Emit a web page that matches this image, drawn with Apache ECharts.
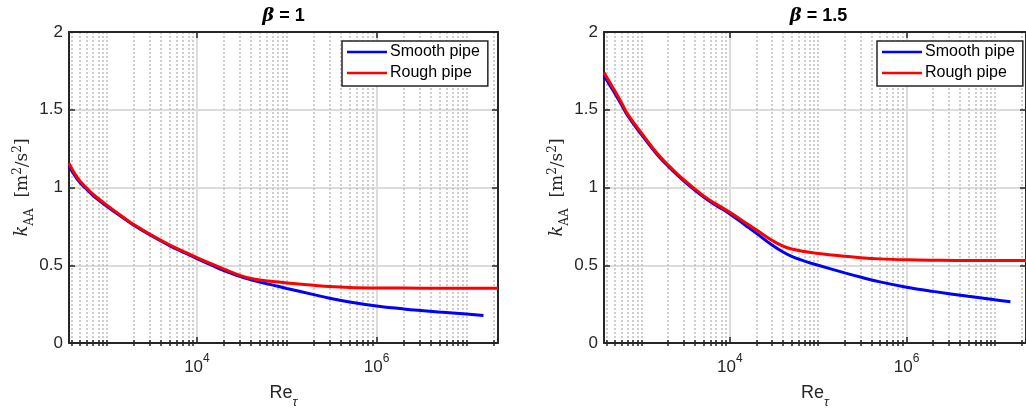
<!DOCTYPE html>
<html>
<head>
<meta charset="utf-8">
<script src="https://cdn.jsdelivr.net/npm/echarts@6/dist/echarts.min.js"></script>
<style>html,body{margin:0;padding:0;background:#fff;}#c{width:1026px;height:414px;}</style>
</head>
<body>
<div id="c"></div>
<script>
// ---- data ----
const titles = ['1', '1.5'];
const seriesNames = ['Smooth pipe', 'Rough pipe'];
const xMin = 376, xMax = 2.25e7;
const majorTicks = [1e4, 1e6];
const yTicks = [0, 0.5, 1, 1.5, 2];
const reSmoothB1 = [376, 430, 500, 600, 700, 1000, 1500, 2000, 3000, 5000, 7000, 1e4, 1.5e4, 2e4, 3e4, 4e4, 5e4, 7e4, 1e5, 2e5, 3e5, 5e5, 1e6, 2e6, 5e6, 1e7, 1.55e7];
const kSmoothB1 = [1.14, 1.082, 1.03, 0.985, 0.947, 0.878, 0.805, 0.755, 0.695, 0.625, 0.585, 0.543, 0.497, 0.466, 0.428, 0.407, 0.392, 0.372, 0.351, 0.311, 0.288, 0.264, 0.238, 0.219, 0.199, 0.186, 0.177];
const reRoughB1 = [376, 430, 500, 600, 700, 1000, 1500, 2000, 3000, 5000, 7000, 1e4, 1.5e4, 2e4, 3e4, 4e4, 5e4, 7e4, 1e5, 2e5, 3e5, 5e5, 1e6, 2e6, 5e6, 1e7, 2.25e7];
const kRoughB1 = [1.155, 1.095, 1.04, 0.993, 0.955, 0.885, 0.81, 0.76, 0.70, 0.63, 0.59, 0.549, 0.505, 0.475, 0.435, 0.415, 0.405, 0.396, 0.386, 0.371, 0.363, 0.357, 0.354, 0.353, 0.352, 0.352, 0.352];
const reSmoothB15 = [376, 430, 500, 600, 700, 1000, 1500, 2000, 3000, 5000, 7000, 1e4, 1.5e4, 2e4, 3e4, 4e4, 5e4, 7e4, 1e5, 2e5, 3e5, 5e5, 1e6, 2e6, 5e6, 1e7, 1.5e7];
const kSmoothB15 = [1.72, 1.665, 1.605, 1.527, 1.46, 1.34, 1.212, 1.137, 1.043, 0.94, 0.885, 0.83, 0.757, 0.705, 0.630, 0.585, 0.557, 0.527, 0.500, 0.451, 0.424, 0.393, 0.359, 0.332, 0.300, 0.278, 0.266];
const reRoughB15 = [376, 430, 500, 600, 700, 1000, 1500, 2000, 3000, 5000, 7000, 1e4, 1.5e4, 2e4, 3e4, 4e4, 5e4, 7e4, 1e5, 2e5, 3e5, 5e5, 1e6, 2e6, 5e6, 1e7, 2.25e7];
const kRoughB15 = [1.74, 1.683, 1.62, 1.54, 1.47, 1.35, 1.22, 1.145, 1.05, 0.948, 0.893, 0.84, 0.773, 0.727, 0.66, 0.623, 0.604, 0.588, 0.576, 0.558, 0.549, 0.541, 0.535, 0.532, 0.530, 0.530, 0.530];

// ---- build ----
const TXT = '#262626';
const FONT = '"Liberation Sans", Arial, sans-serif';
const SERIF = '"DejaVu Serif", serif';
const minorTicks = [];
for (let e = 2; e <= 7; e++) for (let k = 1; k <= 9; k++) {
  const v = k * Math.pow(10, e);
  if (v >= xMin && v <= xMax && !(k === 1 && majorTicks.includes(v))) minorTicks.push(v);
}
const pairs = [
  [[reSmoothB1, kSmoothB1], [reRoughB1, kRoughB1]],
  [[reSmoothB15, kSmoothB15], [reRoughB15, kRoughB15]]
];
const gridLefts = [69, 604];
const W = 429, TOP = 32, H = 311;

const grid = [], xAxis = [], yAxis = [], series = [], legend = [], graphic = [];
gridLefts.forEach((gl, g) => {
  grid.push({left: gl, top: TOP, width: W, height: H, containLabel: false});
  const base = {type: 'log', logBase: 10, min: xMin, max: xMax, gridIndex: g, splitLine: {show: false},
    axisLabel: {show: false}, axisTick: {show: false}, axisLine: {show: false}, minorTick: {show: false}};
  xAxis.push(Object.assign({}, base, {
    position: 'bottom',
    axisLine: {show: true, onZero: false, lineStyle: {color: TXT, width: 2}},
    axisTick: {show: true, inside: true, length: 6, customValues: majorTicks, lineStyle: {color: TXT, width: 1.5}},
    splitLine: {show: true, lineStyle: {color: '#dcdcdc', width: 2}},
    axisLabel: {show: true, customValues: majorTicks, margin: 10, color: TXT,
      formatter: v => '{b|10}{s|' + Math.round(Math.log10(v)) + '}',
      rich: {b: {fontSize: 17, fontFamily: FONT, color: TXT, padding: [6, 0, 0, 0], verticalAlign: 'bottom'},
             s: {fontSize: 12, fontFamily: FONT, color: TXT, verticalAlign: 'top'}}},
    name: '{r|Re}{t|τ}', nameLocation: 'middle', nameGap: 41,
    nameTextStyle: {rich: {r: {fontSize: 18, fontFamily: FONT, color: TXT, padding: [0, 0, 7, 0], verticalAlign: 'top'},
                           t: {fontSize: 13, fontFamily: FONT, fontStyle: 'italic', color: TXT, verticalAlign: 'bottom'}}}
  }));
  xAxis.push(Object.assign({}, base, {
    position: 'bottom',
    axisTick: {show: true, inside: true, length: 3, customValues: minorTicks, lineStyle: {color: TXT, width: 1.5}},
    splitLine: {show: true, lineStyle: {color: '#bfbfbf', width: 1.5, type: [2, 2]}}
  }));
  xAxis.push(Object.assign({}, base, {
    position: 'top',
    axisLine: {show: true, onZero: false, lineStyle: {color: TXT, width: 2}},
    axisTick: {show: true, inside: true, length: 6, customValues: majorTicks, lineStyle: {color: TXT, width: 1.5}}
  }));
  xAxis.push(Object.assign({}, base, {
    position: 'top',
    axisTick: {show: true, inside: true, length: 3, customValues: minorTicks, lineStyle: {color: TXT, width: 1.5}}
  }));
  const yb = {type: 'value', min: 0, max: 2, interval: 0.5, gridIndex: g};
  yAxis.push(Object.assign({}, yb, {
    position: 'left',
    axisLine: {show: true, onZero: false, lineStyle: {color: TXT, width: 2}},
    axisTick: {show: true, inside: true, length: 6, lineStyle: {color: TXT, width: 1.5}},
    axisLabel: {show: true, color: TXT, fontSize: 17, fontFamily: FONT, margin: 6},
    splitLine: {show: true, lineStyle: {color: '#dcdcdc', width: 2}},
    name: '{k|k}{a|AA}{u|  [m}{p|2}{u|/s}{p|2}{u|]}', nameLocation: 'middle', nameRotate: 90, nameGap: 33,
    nameTextStyle: {rich: {
      k: {fontFamily: SERIF, fontStyle: 'italic', fontSize: 18, color: TXT, verticalAlign: 'bottom', padding: [0, 0, 4, 0]},
      a: {fontFamily: SERIF, fontSize: 12, color: TXT, verticalAlign: 'bottom'},
      u: {fontFamily: SERIF, fontSize: 17, color: TXT, verticalAlign: 'bottom', padding: [0, 0, 4, 0]},
      p: {fontFamily: SERIF, fontSize: 12, color: TXT, verticalAlign: 'bottom', padding: [0, 0, 12, 0]}
    }}
  }));
  yAxis.push(Object.assign({}, yb, {
    position: 'right',
    axisLine: {show: true, onZero: false, lineStyle: {color: TXT, width: 2}},
    axisTick: {show: true, inside: true, length: 6, lineStyle: {color: TXT, width: 1.5}},
    axisLabel: {show: false}, splitLine: {show: false}
  }));
  const colors = ['#0000ff', '#ff0000'];
  pairs[g].forEach((p, i) => {
    series.push({
      type: 'line', name: seriesNames[i], xAxisIndex: 4 * g, yAxisIndex: 2 * g,
      data: p[0].map((x, j) => [x, p[1][j]]),
      showSymbol: false, symbol: 'none', smooth: 0.4, color: colors[i],
      lineStyle: {color: colors[i], width: 3}, animation: false, z: 3
    });
  });
  legend.push({
    orient: 'vertical', left: gl + 273, top: 41, data: seriesNames,
    icon: 'rect', itemWidth: 40, itemHeight: 2.5, itemGap: 5,
    padding: [3, 8, 5, 5], borderColor: TXT, borderWidth: 1.5, backgroundColor: '#fff',
    textStyle: {fontSize: 16, fontFamily: FONT, color: '#000', padding: [0, 0, 0, -2]},
    selectedMode: false
  });
  graphic.push({
    type: 'text', x: gl + W / 2, y: 16,
    style: {text: '{b|β} = ' + titles[g], align: 'center', verticalAlign: 'middle',
      font: 'bold 18px ' + FONT, fill: '#000',
      rich: {b: {fontFamily: SERIF, fontStyle: 'italic', fontWeight: 'bold', fontSize: 18, fill: '#000'}}}
  });
});

const chart = echarts.init(document.getElementById('c'), null, {renderer: 'canvas'});
chart.setOption({animation: false, backgroundColor: '#fff', grid, xAxis, yAxis, series, legend, graphic});
</script>
</body>
</html>
